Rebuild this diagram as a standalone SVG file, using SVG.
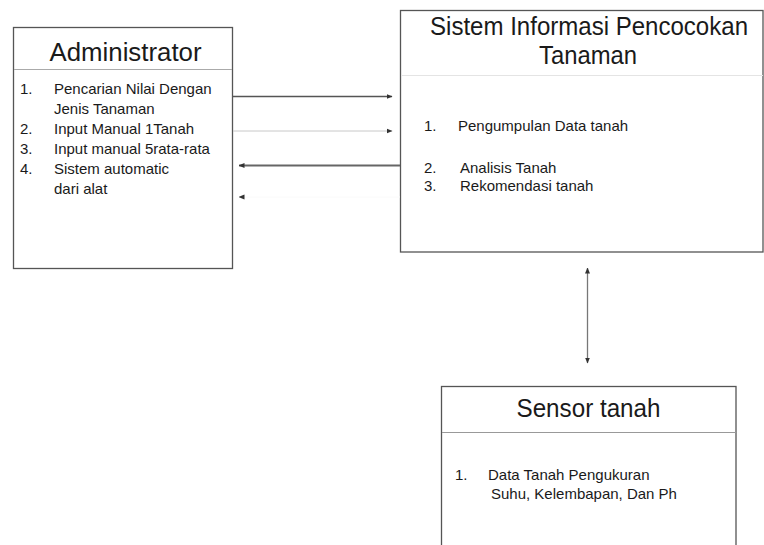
<svg xmlns="http://www.w3.org/2000/svg" width="764" height="545" viewBox="0 0 764 545">
<defs>
<marker id="ah" viewBox="0 0 6 6" refX="5.5" refY="3" markerWidth="6" markerHeight="6" markerUnits="userSpaceOnUse" orient="auto-start-reverse">
<path d="M0,0.5 L6,3 L0,5.5 Z" fill="#333"/>
</marker>
</defs>
<style>
.box{fill:#fff;stroke:#555;stroke-width:1.3}
.div{stroke-width:1}
.title{font-family:"Liberation Sans",Arial,sans-serif;font-size:25px;fill:#1a1a1a;text-anchor:middle}
.t{font-family:"Liberation Sans",Arial,sans-serif;font-size:15px;fill:#1a1a1a}
</style>
<rect width="764" height="545" fill="#fff"/>
<g id="administrator">
<rect class="box" x="13.5" y="27.5" width="219" height="241"/>
<line class="div" x1="14" y1="69.5" x2="232" y2="69.5" stroke="#aaa"/>
<text class="title" x="125.5" y="60.5" textLength="152" lengthAdjust="spacingAndGlyphs">Administrator</text>
<text class="t" x="20" y="93.5">1.</text><text class="t" x="54" y="93.5">Pencarian Nilai Dengan</text>
<text class="t" x="54" y="113.5">Jenis Tanaman</text>
<text class="t" x="20" y="133.5">2.</text><text class="t" x="54" y="133.5">Input Manual 1Tanah</text>
<text class="t" x="20" y="154">3.</text><text class="t" x="54" y="154">Input manual 5rata-rata</text>
<text class="t" x="20" y="174">4.</text><text class="t" x="54" y="174">Sistem automatic</text>
<text class="t" x="54" y="194">dari alat</text>
</g>
<g id="sistem">
<rect class="box" x="400.5" y="10.5" width="362.5" height="241.5"/>
<line class="div" x1="401" y1="75.5" x2="763" y2="75.5" stroke="#e4e4e4"/>
<text class="title" x="589" y="35" textLength="318" lengthAdjust="spacingAndGlyphs">Sistem Informasi Pencocokan</text>
<text class="title" x="588" y="63.5" textLength="98" lengthAdjust="spacingAndGlyphs">Tanaman</text>
<text class="t" x="424" y="131">1.</text><text class="t" x="458" y="131">Pengumpulan Data tanah</text>
<text class="t" x="424" y="173">2.</text><text class="t" x="460" y="173">Analisis Tanah</text>
<text class="t" x="424" y="191">3.</text><text class="t" x="460" y="191">Rekomendasi tanah</text>
</g>
<g id="sensor">
<rect class="box" x="441.5" y="386.5" width="294.5" height="170"/>
<line class="div" x1="442" y1="432.5" x2="736" y2="432.5" stroke="#999"/>
<text class="title" x="588.5" y="416.5" textLength="144" lengthAdjust="spacingAndGlyphs">Sensor tanah</text>
<text class="t" x="455" y="480">1.</text><text class="t" x="488" y="480">Data Tanah Pengukuran</text>
<text class="t" x="491" y="499">Suhu, Kelembapan, Dan Ph</text>
</g>
<g id="connectors" fill="none">
<line x1="233" y1="96.5" x2="392" y2="96.5" stroke="#555" stroke-width="1.3" marker-end="url(#ah)"/>
<line x1="233" y1="131" x2="392" y2="131" stroke="#c8c8c8" stroke-width="1" marker-end="url(#ah)"/>
<line x1="400" y1="165.5" x2="239" y2="165.5" stroke="#666" stroke-width="1.8" marker-end="url(#ah)"/>
<line x1="400" y1="197" x2="239" y2="197" stroke="#fafafa" stroke-width="1" marker-end="url(#ah)"/>
<line x1="587.5" y1="268" x2="587.5" y2="363" stroke="#777" stroke-width="1.3" marker-start="url(#ah)" marker-end="url(#ah)"/>
</g>
</svg>
